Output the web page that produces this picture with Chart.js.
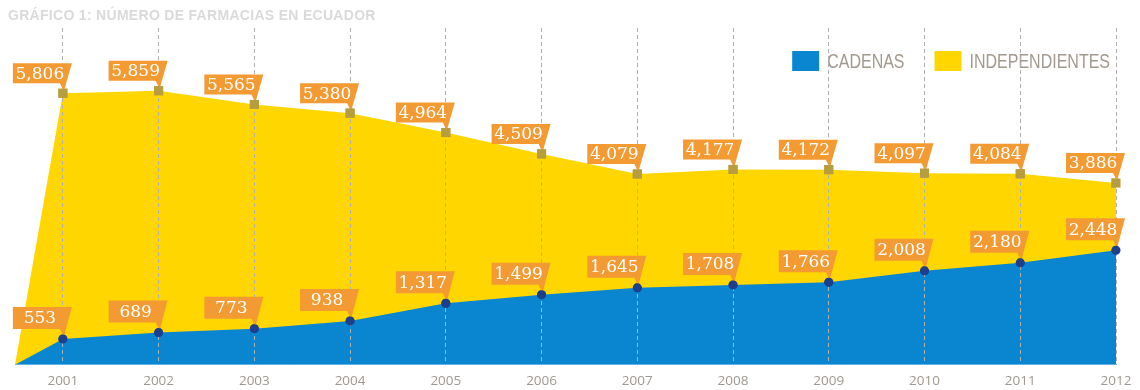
<!DOCTYPE html>
<html>
<head>
<meta charset="utf-8">
<title>Número de farmacias en Ecuador</title>
<script src="https://cdn.jsdelivr.net/npm/chart.js@4.4.1/dist/chart.umd.min.js"></script>
<style>
  body { margin: 0; background: #fff; width: 1140px; height: 390px; overflow: hidden; position: relative; }
  #titulo { position: absolute; left: 8px; top: 7px; z-index: 2; font: bold 14px 'Liberation Sans', sans-serif; color: #dadada; letter-spacing: 0.3px; white-space: nowrap; }
  #wrap { position: absolute; left: 0; top: 0; width: 1140px; height: 390px; }
</style>
</head>
<body>
<div id="titulo">GRÁFICO 1: NÚMERO DE FARMACIAS EN ECUADOR</div>
<div id="wrap"><canvas id="farmacias"></canvas></div>
<script>
// data
const years = [2001, 2002, 2003, 2004, 2005, 2006, 2007, 2008, 2009, 2010, 2011, 2012];
const cadenas = [553, 689, 773, 938, 1317, 1499, 1645, 1708, 1766, 2008, 2180, 2448];
const independientes = [5806, 5859, 5565, 5380, 4964, 4509, 4079, 4177, 4172, 4097, 4084, 3886];
const seriesNames = ['CADENAS', 'INDEPENDIENTES'];

const startYear = 2000.5;   // areas rise from zero half a step before 2001
const yMax = 7200;

// colours
const BLUE = '#0a86d1';
const YELLOW = '#ffd600';
const ORANGE = '#f39a33';

function toPoints(values) {
  const pts = [{ x: startYear, y: 0 }];
  values.forEach((v, i) => pts.push({ x: years[i], y: v }));
  return pts;
}

// legend boxes in the top right corner of the plot (condensed text)
const topLegend = {
  id: 'topLegend',
  afterDatasetsDraw(chart) {
    const ctx = chart.ctx;
    const area = chart.chartArea;
    const squeeze = 0.8;
    ctx.save();
    ctx.font = '20px "Liberation Sans", sans-serif';
    ctx.textBaseline = 'middle';
    ctx.textAlign = 'left';
    const items = chart.data.datasets.map(ds => {
      const tw = ctx.measureText(ds.label).width * squeeze;
      return { text: ds.label, color: ds.backgroundColor, tw: tw, w: 27 + 8 + tw };
    });
    const total = items.reduce((s, it) => s + it.w, 0) + 30 * (items.length - 1);
    let x = area.right - 6 - total;
    const top = area.top + 23;
    items.forEach(it => {
      ctx.fillStyle = it.color;
      ctx.fillRect(x, top, 27, 20);
      ctx.save();
      ctx.translate(x + 35, top + 11);
      ctx.scale(squeeze, 1);
      ctx.fillStyle = '#a39a8e';
      ctx.fillText(it.text, 0, 0);
      ctx.restore();
      x += it.w + 30;
    });
    ctx.restore();
  }
};

// orange flag labels with a tail pointing at the marker
const flagLabels = {
  id: 'flagLabels',
  afterDraw(chart) {
    const ctx = chart.ctx;
    ctx.save();
    chart.data.datasets.forEach((ds, di) => {
      const meta = chart.getDatasetMeta(di);
      const h = di === 0 ? 22 : 20;
      meta.data.forEach((pt, i) => {
        if (i === 0) return;
        const mx = pt.x, my = pt.y;
        const L = mx - 50, R = mx + 9, B = my - 10, T = B - h;
        ctx.beginPath();
        ctx.moveTo(L, T);
        ctx.lineTo(R, T);
        ctx.lineTo(mx + 1, my - 2);
        ctx.lineTo(mx - 3, B);
        ctx.lineTo(L, B);
        ctx.closePath();
        ctx.fillStyle = ORANGE;
        ctx.fill();
        ctx.fillStyle = '#fff';
        ctx.font = '17px "DejaVu Serif", serif';
        ctx.textAlign = 'center';
        ctx.textBaseline = 'middle';
        ctx.fillText(ds.data[i].y.toLocaleString('en-US'), L + 27, (T + B) / 2 + 1);
        pt.draw(ctx, chart.chartArea);   // marker sits over the tail tip
      });
    });
    ctx.restore();
  }
};

const grafico = new Chart(document.getElementById('farmacias'), {
  type: 'line',
  data: {
    datasets: [
      {
        label: seriesNames[0],
        data: toPoints(cadenas),
        backgroundColor: BLUE,
        borderColor: BLUE,
        borderWidth: 0,
        fill: 'origin',
        pointStyle: 'circle',
        pointRadius: c => c.dataIndex === 0 ? 0 : 4.5,
        pointBackgroundColor: '#1d3f8c',
        pointBorderWidth: 0
      },
      {
        label: seriesNames[1],
        data: toPoints(independientes),
        backgroundColor: YELLOW,
        borderColor: YELLOW,
        borderWidth: 0,
        fill: 'origin',
        pointStyle: 'rect',
        pointRadius: c => c.dataIndex === 0 ? 0 : 6.4,
        pointBackgroundColor: '#b89d3e',
        pointBorderWidth: 0
      }
    ]
  },
  options: {
    responsive: true,
    maintainAspectRatio: false,
    animation: false,
    layout: { padding: { left: 15, right: 24, top: 28, bottom: -7 } },
    plugins: {
      title: { display: false },
      tooltip: { enabled: false },
      legend: { display: false }
    },
    scales: {
      x: {
        type: 'linear',
        min: startYear,
        max: years[years.length - 1],
        afterBuildTicks: axis => { axis.ticks = years.map(v => ({ value: v })); },
        grid: {
          z: 1,
          color: '#b0b0b0',
          lineWidth: 1,
          drawTicks: false
        },
        border: { display: true, z: 1, color: '#62b2e8', width: 1, dash: [4, 3] },
        ticks: {
          padding: 8,
          color: '#a09890',
          font: { family: '"Open Sans", sans-serif', size: 13.5 },
          callback: v => String(v)
        }
      },
      y: {
        display: false,
        min: 0,
        max: yMax
      }
    }
  },
  plugins: [topLegend, flagLabels]
});
</script>
</body>
</html>
